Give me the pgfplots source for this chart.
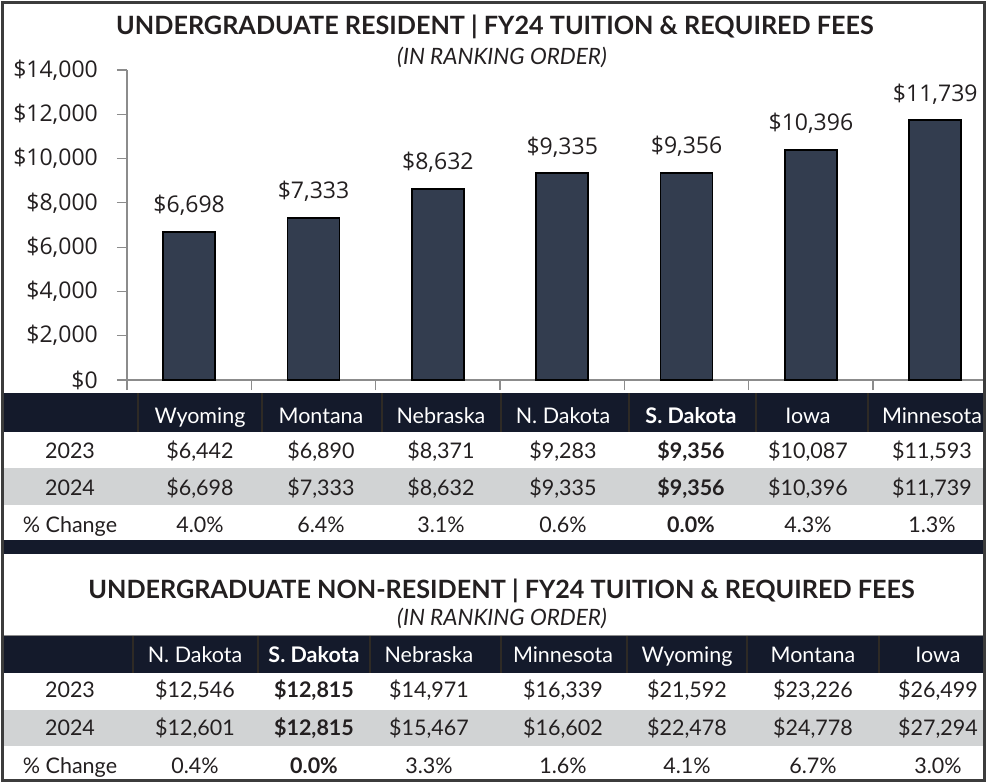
\documentclass[border=0pt]{standalone}
\usepackage{fontspec}
\setmainfont{Lato}
\newfontfamily\osans{Open Sans}
\usepackage{pgfplots}
\pgfplotsset{compat=1.18}
\definecolor{navy}{HTML}{141A2B}
\definecolor{rowgray}{HTML}{D1D3D4}
\definecolor{sepcol}{HTML}{2E2A25}
\definecolor{framecol}{HTML}{3C3C3C}
\definecolor{barfill}{HTML}{333D4F}
\definecolor{axisgray}{HTML}{8C8C8C}
\definecolor{txt}{HTML}{231F20}
\newcommand\tf{\fontsize{21.5}{25}\selectfont}
\begin{document}
\begin{tikzpicture}
\fill[white] (0pt,0pt) rectangle (987pt,-783pt);
\begin{axis}[
    at={(127pt,-380pt)}, anchor=south west,
    scale only axis, width=858pt, height=310pt,
    xmin=-0.5, xmax=6.4, ymin=0, ymax=14000,
    axis x line=bottom, axis y line=left,
    axis line style={-, draw=axisgray, line width=1.2pt},
    tick style={draw=axisgray, line width=1.2pt},
    tick align=outside, major tick length=10pt,
    xtick={-0.5,0.5,...,5.5}, xticklabels={},
    ytick={0,2000,...,14000}, scaled y ticks=false,
    yticklabel={\$\pgfmathprintnumber{\tick}},
    yticklabel style={font=\osans\fontsize{23}{27}\selectfont, text=txt, anchor=east, inner sep=0pt, xshift=-19pt},
    ybar, bar width=52pt,
    nodes near coords={\$\pgfmathprintnumber{\pgfplotspointmeta}},
    every node near coord/.append style={font=\osans\fontsize{23}{27}\selectfont, text=txt, anchor=base, yshift=19pt},
    /pgf/number format/fixed, /pgf/number format/precision=0,
    /pgf/number format/1000 sep={,}, /pgf/number format/assume math mode=true,
  ]
  \addplot[fill=barfill, draw=black, line width=1.8pt] coordinates {
    (0,6698) (1,7333) (2,8632) (3,9335) (4,9356) (5,10396) (6,11739)
  };
\end{axis}
\begin{scope}[x=1pt,y=-1pt]
  % titles
  \node[anchor=base, text=txt, font=\bfseries\fontsize{25.2}{29}\selectfont] at (495,35)
    {UNDERGRADUATE RESIDENT | FY24 TUITION \& REQUIRED FEES};
  \node[anchor=base, text=txt, font=\itshape\fontsize{22.5}{26}\selectfont] at (502,65)
    {(IN RANKING ORDER)};
  % table 1
  \fill[navy] (4,393) rectangle (984,432);
  \fill[rowgray] (4,468) rectangle (984,505);
  \fill[navy] (4,540) rectangle (984,554);
  \foreach \x in {138,262,382,501,629,756,868}
    \draw[sepcol, line width=1.5pt] (\x,393) -- (\x,432);
  \foreach \x/\t in {200/Wyoming,321/Montana,441/Nebraska,563/N. Dakota,691/{\bfseries S. Dakota},808/Iowa,932/Minnesota}
    \node[anchor=base, text=white, font=\tf] at (\x,423) {\t};
  \foreach \x/\t in {70/2023,200/{\$6,442},321/{\$6,890},441/{\$8,371},563/{\$9,283},691/{\bfseries\$9,356},808/{\$10,087},932/{\$11,593}}
    \node[anchor=base, text=txt, font=\tf] at (\x,458) {\t};
  \foreach \x/\t in {70/2024,200/{\$6,698},321/{\$7,333},441/{\$8,632},563/{\$9,335},691/{\bfseries\$9,356},808/{\$10,396},932/{\$11,739}}
    \node[anchor=base, text=txt, font=\tf] at (\x,495) {\t};
  \foreach \x/\t in {70/\% Change,200/4.0\%,321/6.4\%,441/3.1\%,563/0.6\%,691/{\bfseries 0.0\%},808/4.3\%,932/1.3\%}
    \node[anchor=base, text=txt, font=\tf] at (\x,532) {\t};
  % title 2
  \node[anchor=base, text=txt, font=\bfseries\fontsize{25.2}{29}\selectfont] at (501.5,598)
    {UNDERGRADUATE NON-RESIDENT | FY24 TUITION \& REQUIRED FEES};
  \node[anchor=base, text=txt, font=\itshape\fontsize{22.5}{26}\selectfont] at (502,625)
    {(IN RANKING ORDER)};
  % table 2
  \fill[navy] (4,636) rectangle (984,673);
  \draw[axisgray, line width=1pt] (4,635.5) -- (984,635.5);
  \fill[rowgray] (4,710) rectangle (984,746);
  \foreach \x in {133,258,370,501,627,747,879}
    \draw[sepcol, line width=1.5pt] (\x,636) -- (\x,673);
  \foreach \x/\t in {195/N. Dakota,314/{\bfseries S. Dakota},429/Nebraska,563/Minnesota,687/Wyoming,813/Montana,938/Iowa}
    \node[anchor=base, text=white, font=\tf] at (\x,662) {\t};
  \foreach \x/\t in {70/2023,195/{\$12,546},314/{\bfseries\$12,815},429/{\$14,971},563/{\$16,339},687/{\$21,592},813/{\$23,226},938/{\$26,499}}
    \node[anchor=base, text=txt, font=\tf] at (\x,697) {\t};
  \foreach \x/\t in {70/2024,195/{\$12,601},314/{\bfseries\$12,815},429/{\$15,467},563/{\$16,602},687/{\$22,478},813/{\$24,778},938/{\$27,294}}
    \node[anchor=base, text=txt, font=\tf] at (\x,735) {\t};
  \foreach \x/\t in {70/\% Change,195/0.4\%,314/{\bfseries 0.0\%},429/3.3\%,563/1.6\%,687/4.1\%,813/6.7\%,938/3.0\%}
    \node[anchor=base, text=txt, font=\tf] at (\x,773) {\t};
  % frame
  \draw[framecol, line width=3pt] (2.5,2.5) rectangle (984.5,780.5);
\end{scope}
\pgfresetboundingbox
\path (0pt,0pt) rectangle (987pt,-783pt);
\end{tikzpicture}
\end{document}
